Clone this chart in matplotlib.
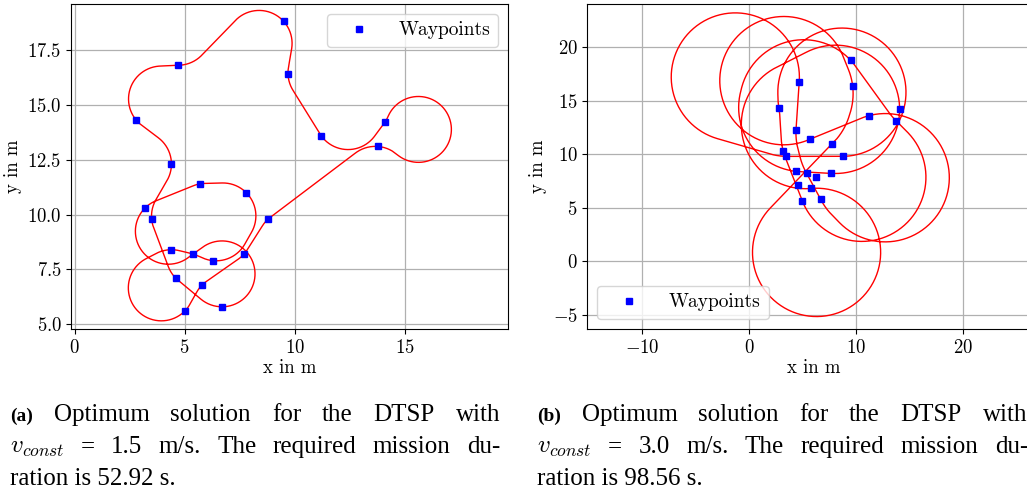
import numpy as np
import matplotlib
matplotlib.use("Agg")
import matplotlib.pyplot as plt

plt.rcParams["font.family"] = "cmr10"
plt.rcParams["mathtext.fontset"] = "cm"
plt.rcParams["axes.formatter.use_mathtext"] = True

# Waypoint positions in m
wp_x = [4.7, 9.5, 9.7, 2.8, 11.2, 14.1, 13.8, 4.4, 5.7, 7.8, 3.2,
        3.5, 8.8, 4.4, 5.4, 6.3, 7.7, 4.6, 5.8, 6.7, 5.0]
wp_y = [16.8, 18.8, 16.4, 14.3, 13.6, 14.2, 13.1, 12.3, 11.4, 11.0, 10.3,
        9.8, 9.8, 8.4, 8.2, 7.9, 8.2, 7.1, 6.8, 5.8, 5.6]

# (a) v = 1.5 m/s: visiting order and heading at each visit (deg)
tour_a = [0, 1, 2, 4, 5, 6, 12, 16, 18, 20, 13, 14, 15, 9, 8, 10, 19, 17, 11, 7, 3]
heading_a = [0, -48, -88, -55, 55, 175, 222, 228, 225, 225, 0, -18, -5,
             135, 190, 225, 180, 135, 95, 90, 130]
radius_a = 1.5

# (b) v = 3.0 m/s
tour_b = [0, 11, 12, 3, 10, 20, 6, 1, 13, 16, 5, 18, 9, 2, 8, 4, 19, 14, 7]
heading_b = [86, 359, 1, 280, 285, 292, 136, 133, 354, 358, 90, 5, 44, 97,
             24, 15, 117, 120, 87]
radius_b = 6.0

xticks_a = [0, 5, 10, 15]
yticks_a = [5.0, 7.5, 10.0, 12.5, 15.0, 17.5]
xticks_b = [-10, 0, 10, 20]
yticks_b = [-5, 0, 5, 10, 15, 20]


def mod2pi(a):
    return a % (2 * np.pi)


def dubins_words(alpha, beta, d):
    sa, sb, ca, cb = np.sin(alpha), np.sin(beta), np.cos(alpha), np.cos(beta)
    c_ab = np.cos(alpha - beta)
    words = {}
    p2 = 2 + d * d - 2 * c_ab + 2 * d * (sa - sb)
    if p2 >= 0:
        t1 = np.arctan2(cb - ca, d + sa - sb)
        words["LSL"] = (mod2pi(t1 - alpha), np.sqrt(p2), mod2pi(beta - t1))
    p2 = 2 + d * d - 2 * c_ab + 2 * d * (sb - sa)
    if p2 >= 0:
        t1 = np.arctan2(ca - cb, d - sa + sb)
        words["RSR"] = (mod2pi(alpha - t1), np.sqrt(p2), mod2pi(t1 - beta))
    p2 = -2 + d * d + 2 * c_ab + 2 * d * (sa + sb)
    if p2 >= 0:
        p = np.sqrt(p2)
        t0 = np.arctan2(-ca - cb, d + sa + sb) - np.arctan2(-2.0, p)
        words["LSR"] = (mod2pi(t0 - alpha), p, mod2pi(t0 - beta))
    p2 = -2 + d * d + 2 * c_ab - 2 * d * (sa + sb)
    if p2 >= 0:
        p = np.sqrt(p2)
        t0 = np.arctan2(ca + cb, d - sa - sb) - np.arctan2(2.0, p)
        words["RSL"] = (mod2pi(alpha - t0), p, mod2pi(beta - t0))
    t0 = (6 - d * d + 2 * c_ab + 2 * d * (sa - sb)) / 8
    if abs(t0) <= 1:
        phi = np.arctan2(ca - cb, d - sa + sb)
        p = mod2pi(2 * np.pi - np.arccos(t0))
        t = mod2pi(alpha - phi + p / 2)
        words["RLR"] = (t, p, mod2pi(alpha - beta - t + p))
    t0 = (6 - d * d + 2 * c_ab + 2 * d * (sb - sa)) / 8
    if abs(t0) <= 1:
        phi = np.arctan2(ca - cb, d + sa - sb)
        p = mod2pi(2 * np.pi - np.arccos(t0))
        t = mod2pi(-alpha - phi + p / 2)
        words["LRL"] = (t, p, mod2pi(beta - alpha - t + p))
    return words


def trace(x, y, h, name, segs, r):
    xs, ys = [x], [y]
    for kind, length in zip(name, segs):
        s = np.linspace(0, length, max(int(length * 60), 2))[1:]
        if kind == "S":
            px, py, nh = x + s * r * np.cos(h), y + s * r * np.sin(h), h
        elif kind == "L":
            cx, cy = x - r * np.sin(h), y + r * np.cos(h)
            px, py, nh = cx + r * np.sin(h + s), cy - r * np.cos(h + s), h + length
        else:
            cx, cy = x + r * np.sin(h), y - r * np.cos(h)
            px, py, nh = cx - r * np.sin(h - s), cy + r * np.cos(h - s), h - length
        xs.extend(px)
        ys.extend(py)
        x, y, h = px[-1], py[-1], nh
    return np.array(xs), np.array(ys)


def dubins_leg(x0, y0, h0, x1, y1, h1, r):
    dx, dy = x1 - x0, y1 - y0
    d = np.hypot(dx, dy) / r
    th = np.arctan2(dy, dx)
    words = dubins_words(mod2pi(h0 - th), mod2pi(h1 - th), d)
    best = None
    for name, segs in words.items():
        px, py = trace(x0, y0, h0, name, segs, r)
        if np.hypot(px[-1] - x1, py[-1] - y1) > 1e-3 * r:
            continue
        if best is None or sum(segs) < best[0]:
            best = (sum(segs), px, py)
    return best[1], best[2]


def tour_path(order, headings, r):
    xs, ys = [], []
    n = len(order)
    for k in range(n):
        i, j = order[k], order[(k + 1) % n]
        px, py = dubins_leg(wp_x[i], wp_y[i], np.radians(headings[k]),
                            wp_x[j], wp_y[j], np.radians(headings[(k + 1) % n]), r)
        xs.extend(px)
        ys.extend(py)
    return xs, ys


def justify(fig, words, x0, x1, y, size, first_size=None):
    W, H = fig.get_size_inches() * fig.dpi
    rend = fig.canvas.get_renderer()
    texts = []
    for k, w in enumerate(words):
        bold = first_size is not None and k == 0
        t = fig.text(0, 1 - y / H, w, fontsize=first_size if bold else size,
                     family=["Liberation Serif"], va="baseline",
                     weight="bold" if bold else "normal")
        texts.append(t)
    widths = [t.get_window_extent(rend).width for t in texts]
    gap = (x1 - x0 - sum(widths)) / max(len(words) - 1, 1)
    x = x0
    for t, w in zip(texts, widths):
        t.set_x(x / W)
        x += w + gap


fig = plt.figure(figsize=(10.27, 4.98), dpi=100)
ax_a = fig.add_axes([0.0696, 0.3394, 0.4250, 0.6526])
ax_b = fig.add_axes([0.5719, 0.3394, 0.4400, 0.6526])

panels = [
    (ax_a, tour_a, heading_a, radius_a, (-0.145, 19.70), (4.79, 19.59),
     xticks_a, yticks_a, "upper right"),
    (ax_b, tour_b, heading_b, radius_b, (-15.14, 27.17), (-6.34, 24.05),
     xticks_b, yticks_b, "lower left"),
]
for ax, order, heads, r, xl, yl, xt, yt, loc in panels:
    px, py = tour_path(order, heads, r)
    ax.plot(px, py, color="red", lw=1.0, zorder=2)
    ax.plot(wp_x, wp_y, "s", color="blue", ms=5, label="Waypoints", zorder=3)
    ax.set_xlim(*xl)
    ax.set_ylim(*yl)
    ax.set_xticks(xt)
    ax.set_yticks(yt)
    ax.grid(True, color="#b0b0b0", lw=0.9)
    ax.set_axisbelow(True)
    ax.tick_params(labelsize=13.5)
    ax.set_xlabel("x in m", fontsize=13.5, labelpad=2)
    ax.set_ylabel("y in m", fontsize=13.5, labelpad=4)
    ax.legend(loc=loc, fontsize=14, handlelength=2.5, borderpad=0.4)

cap = 18
justify(fig, ["(a)", "Optimum", "solution", "for", "the", "DTSP", "with"],
        10, 500, 421, cap, first_size=14)
justify(fig, [r"$v_{const}$", "=", "1.5", "m/s.", "The", "required", "mission", "du-"],
        10, 500, 453, cap)
fig.text(10 / 1027, 1 - 485 / 498, "ration is 52.92 s.", fontsize=cap,
         family=["Liberation Serif"], va="baseline")
justify(fig, ["(b)", "Optimum", "solution", "for", "the", "DTSP", "with"],
        537, 1027, 421, cap, first_size=14)
justify(fig, [r"$v_{const}$", "=", "3.0", "m/s.", "The", "required", "mission", "du-"],
        537, 1028, 453, cap)
fig.text(537 / 1027, 1 - 485 / 498, "ration is 98.56 s.", fontsize=cap,
         family=["Liberation Serif"], va="baseline")

fig.savefig("out.png", dpi=100)
